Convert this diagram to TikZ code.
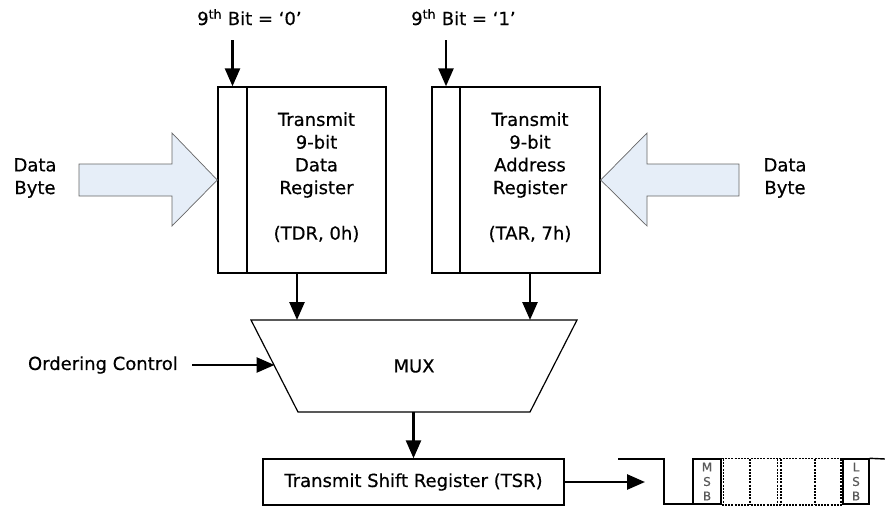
\documentclass[tikz,border=0pt]{standalone}
\usepackage{fontspec}
\setmainfont{DejaVu Sans}[FakeBold=0.5]
\usetikzlibrary{arrows.meta}
\definecolor{blockfill}{HTML}{E6EEF8}
\begin{document}
\begin{tikzpicture}[x=1pt,y=-1pt,
  every node/.style={font=\fontsize{18}{22.7}\selectfont, inner sep=0pt},
  box/.style={draw, line width=1.4pt},
  arr/.style={line width=2.6pt, -{Triangle[length=18pt,width=15pt]}},
  blockarrow/.style={draw=black!60, line width=0.7pt, fill=blockfill},
  wave/.style={line width=1.4pt},
  dots/.style={line width=1.6pt, dash pattern=on 2pt off 1.2pt},
  small/.style={font=\fontsize{12}{14.5}\selectfont, text=black!65, align=center}]
\useasboundingbox (0,0) rectangle (885,506);

% registers
\node[box, minimum width=29pt, minimum height=186pt] (bitL) at (232.5,180) {};
\node[box, minimum width=139pt, minimum height=186pt] (regL) at (316.5,180) {};
\node[box, minimum width=28pt, minimum height=186pt] (bitR) at (446,180) {};
\node[box, minimum width=140pt, minimum height=186pt] (regR) at (530,180) {};
\node[align=center] (tdrname) at (316.5,155) {Transmit\\9-bit\\Data\\Register};
\node (tdrid) at (316.5,234) {(TDR, 0h)};
\node[align=center] (tarname) at (530,155) {Transmit\\9-bit\\Address\\Register};
\node (tarid) at (530,234) {(TAR, 7h)};

% ninth bit inputs
\node[anchor=base west] (lab0) at (197,25) {9\textsuperscript{th} Bit = ‘0’};
\node[anchor=base west] (lab1) at (411,25) {9\textsuperscript{th} Bit = ‘1’};
\coordinate (in0) at (232.5,40);
\coordinate (in1) at (446,40);
\draw[arr] (in0) -- (bitL.north);
\draw[arr] (in1) -- (bitR.north);

% data byte block arrows
\node[align=center] (dbL) at (35,178) {Data\\Byte};
\node[align=center] (dbR) at (785,178) {Data\\Byte};
\draw[blockarrow] (79,164) -- (172,164) -- (172,133) -- (bitL.west) -- (172,226) -- (172,196) -- (79,196) -- cycle;
\draw[blockarrow] (739,164) -- (647,164) -- (647,133) -- (regR.east) -- (647,226) -- (647,196) -- (739,196) -- cycle;

% MUX
\draw[line width=1.2pt] (251,320) -- (577,320) -- (530,412) -- (298,412) -- cycle;
\node (mux) at (414,366) {MUX};
\coordinate (muxL) at (297,320);
\coordinate (muxR) at (530,320);
\coordinate (muxC) at (274.5,365);
\coordinate (muxB) at (413.5,412);
\draw[arr] (muxL |- regL.south) -- (muxL);
\draw[arr] (regR.south) -- (muxR);

% ordering control
\node[anchor=east] (ord) at (178,365) {Ordering Control};
\draw[arr] ([xshift=14pt]ord.east) -- (muxC);

% TSR
\node[box, minimum width=301pt, minimum height=46pt] (tsr) at (413.5,482) {Transmit Shift Register (TSR)};
\draw[arr] (muxB) -- (tsr.north);
\coordinate (wave) at (645,482);
\draw[arr] (tsr.east) -- (wave);

% waveform
\draw[wave] (618,459) -- (664,459) -- (664,504) -- (693,504);
\node[draw, line width=1.4pt, minimum width=28pt, minimum height=45pt, small] (msb) at (707,481.5) {M\\S\\B};
\node[draw, line width=1.4pt, minimum width=26pt, minimum height=45pt, small] (lsb) at (856,481.5) {L\\S\\B};
\coordinate (idle) at (885,459);
\draw[wave] (lsb.north east) -- (idle);
\draw[dots] (msb.north east) -- (lsb.north west);
\draw[dots] (msb.south east) -- (lsb.south west);
\foreach \xx in {723.5,750,777.5,781,815,841}
  \draw[dots] (\xx,459) -- (\xx,504);
\end{tikzpicture}
\end{document}
